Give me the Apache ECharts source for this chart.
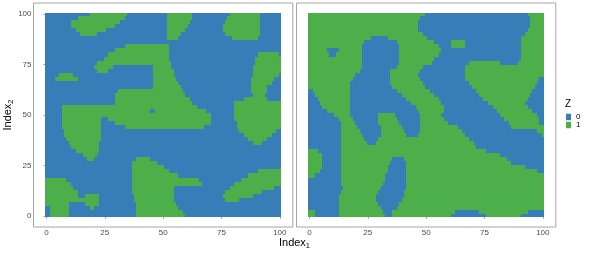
<!DOCTYPE html>
<html><head><meta charset="utf-8">
<script src="https://cdn.jsdelivr.net/npm/echarts@6/dist/echarts.min.js"></script>
<style>html,body{margin:0;padding:0;background:#fff}#c{width:595px;height:255px}</style>
</head><body><div id="c"></div>
<script>
// ---- data ----
const xTicks = [0, 25, 50, 75, 100];
const yTicks = [0, 25, 50, 75, 100];
const zLevels = ['0', '1'];
const zColors = ['#377EB8', '#4DAF4A'];
// rows of the grid, top to bottom (each row covers 2 index units)
const rowY = [100,98,96,94,92,90,88,86,84,82,80,78,76,74,72,70,68,66,64,62,60,58,56,54,52,50,48,46,44,42,40,38,36,34,32,30,28,26,24,22,20,18,16,14,12,10,8,6,4,2,0];
// panel 1: background Z = 0, listed runs (Index1 from-to) have Z = 1
const panel1Base = 0;
const panel1Runs = [
"19-34 52-62 79-91","14-33 52-62 78-91","11-31 52-61 77-91","11-29 52-60 76-91","13-25 52-59 76-91",
"15-21 52-57 77-91","52-56 80-90","","34-52","30-52",
"27-52 91-99","25-52 90-100","22-53 90-100","21-28 46-53 89-100","22-26 46-54 89-100",
"6-11 46-54 89-99","4-13 46-55 88-97","46-56 88-96","46-57 88-94","31-58 88-94",
"30-59 89-93","30-61 85-94","30-62 81-100","7-64 81-100","7-44 47-68 81-100",
"7-70 81-100","7-23 27-70 81-100","7-23 30-70 82-100","7-23 34-67 82-100","8-23 83-98",
"8-23 85-96","9-23 87-94","10-22 89-92","11-22","13-22",
"16-21","18-20 39-44","37-47","37-50","37-52 91-100",
"37-56 87-100","0-8 37-65 84-100","0-10 37-66 81-100","0-11 37-54 79-97","0-13 37-54 77-92",
"0-13 17-22 38-54 76-88","0-22 38-54 77-82","0-9 17-22 39-55","2-9 19-20 39-56","2-9 39-58",
"2-9 39-59"];
// panel 2: background Z = 1, listed runs have Z = 0
const panel2Base = 1;
const panel2Runs = [
"50-93","48-94","47-94","47-94","47-93",
"49-92","27-33 51-90","24-37 54-60 67-90","23-38 56-60 67-90","8-12 23-38 57-90",
"9-11 23-38 56-90","23-38 54-90","23-38 53-68 82-89","23-37 49-66","22-34 48-66",
"20-34 47-66","19-34 48-66 99-100","18-34 49-68 98-100","18-35 50-69 97-100","0-1 18-37 52-71 96-100",
"0-2 18-39 54-72 95-100","0-3 18-41 56-74 94-100","0-4 18-43 57-76 93-100","0-5 18-45 58-78 94-100","0-7 18-46 58-80 96-100",
"0-10 18-29 37-47 57-81 98-100","0-12 19-29 38-47 58-83 99-100","0-13 20-29 39-47 60-85 99-100","0-13 21-30 40-47 64-86","0-13 22-30 41-47 66-97",
"0-13 23-30 42-46 67-99","0-13 24-29 69-100","0-13 25-28 71-100","0-13 72-100","4-13 76-100",
"6-13 82-100","6-13 36-40 85-100","6-13 35-41 87-100","6-13 34-41 93-100","5-13 34-41 98-100",
"3-13 33-41","0-13 33-41","0-13 32-41","0-14 31-41","0-13 30-40",
"0-12 29-40","0-12 29-39","0-12 30-38","0-12 31-37","3-12 32-35 63-72 94-100",
"3-12 33-35 61-75 91-100"];

// ---- build cell runs [x0, x1, y, z] ----
function buildCells(base, runs) {
  const out = [];
  runs.forEach(function (s, i) {
    const y = rowY[i];
    const fg = s.trim() ? s.trim().split(/\s+/).map(function (r) { const p = r.split('-'); return [+p[0], +p[1]]; }) : [];
    let pos = 0;
    fg.forEach(function (r) {
      if (r[0] > pos) out.push([pos, r[0] - 1, y, base]);
      out.push([r[0], r[1], y, 1 - base]);
      pos = r[1] + 1;
    });
    if (pos <= 100) out.push([pos, 100, y, base]);
  });
  return out;
}
const cells = [buildCells(panel1Base, panel1Runs), buildCells(panel2Base, panel2Runs)];

const FONT = 'Liberation Sans, Arial, sans-serif';
const grey = '#a6a6a6';

function renderItem(params, api) {
  const x0 = api.value(0) - 0.5, x1 = api.value(1) + 0.5, y = api.value(2);
  const y0 = Math.max(y - 1, -0.5), y1 = Math.min(y + 1, 100.5);
  const p0 = api.coord([x0, y1]), p1 = api.coord([x1, y0]);
  const l = Math.round(p0[0]), t = Math.round(p0[1]), r = Math.round(p1[0]), b = Math.round(p1[1]);
  return { type: 'rect', shape: { x: l, y: t, width: r - l, height: b - t },
           style: { fill: api.visual('color') } };
}

const series = [];
[0, 1].forEach(function (p) {
  [0, 1].forEach(function (z) {
    series.push({
      type: 'custom', name: zLevels[z], xAxisIndex: p, yAxisIndex: p,
      data: cells[p].filter(function (c) { return c[3] === z; }),
      encode: { x: [0, 1], y: 2 }, itemStyle: { color: zColors[z] },
      renderItem: renderItem, silent: true, animation: false
    });
  });
});

function xAxis(p) {
  return { type: 'value', gridIndex: p, min: -5.55, max: 105.55,
    axisLine: { show: false }, splitLine: { show: false },
    axisTick: { show: true, customValues: xTicks, length: 3, lineStyle: { color: grey } },
    axisLabel: { customValues: xTicks, fontSize: 8, color: '#4d4d4d', margin: 2, fontFamily: FONT } };
}
function yAxis(p) {
  return { type: 'value', gridIndex: p, min: -5.55, max: 105.55,
    axisLine: { show: false }, splitLine: { show: false },
    axisTick: { show: p === 0, customValues: yTicks, length: 3, lineStyle: { color: grey } },
    axisLabel: { show: p === 0, customValues: yTicks, fontSize: 8, color: '#4d4d4d', margin: 2, fontFamily: FONT } };
}

const chart = echarts.init(document.getElementById('c'), null, { renderer: 'canvas' });
chart.setOption({
  backgroundColor: '#fff',
  animation: false,
  grid: [
    { left: 33.5, top: 3, width: 259.3, height: 224, show: true, borderColor: grey, borderWidth: 1, backgroundColor: 'transparent' },
    { left: 296.5, top: 3, width: 259.3, height: 224, show: true, borderColor: grey, borderWidth: 1, backgroundColor: 'transparent' }
  ],
  xAxis: [xAxis(0), xAxis(1)],
  yAxis: [yAxis(0), yAxis(1)],
  title: { text: 'Z', left: 565, top: 99, padding: 0, textStyle: { fontSize: 10, fontWeight: 'normal', color: '#000', fontFamily: FONT } },
  legend: { orient: 'vertical', left: 566, top: 113, padding: 0, itemWidth: 5, itemHeight: 6.5, itemGap: 0, icon: 'rect',
    selectedMode: false, data: zLevels, textStyle: { fontSize: 8, lineHeight: 6.5, color: '#000', fontFamily: FONT } },
  graphic: [
    { type: 'text', x: 294.5, y: 243, style: { text: 'Index{s|1}', fill: '#000', font: '11px ' + FONT, align: 'center', verticalAlign: 'middle',
      rich: { s: { fontSize: 7.5, fontFamily: FONT, padding: [6, 0, 0, 0] } } } },
    { type: 'text', x: 8, y: 115, rotation: Math.PI / 2, style: { text: 'Index{s|2}', fill: '#000', font: '11px ' + FONT, align: 'center', verticalAlign: 'middle',
      rich: { s: { fontSize: 7.5, fontFamily: FONT, padding: [6, 0, 0, 0] } } } }
  ],
  series: series
});
</script></body></html>
